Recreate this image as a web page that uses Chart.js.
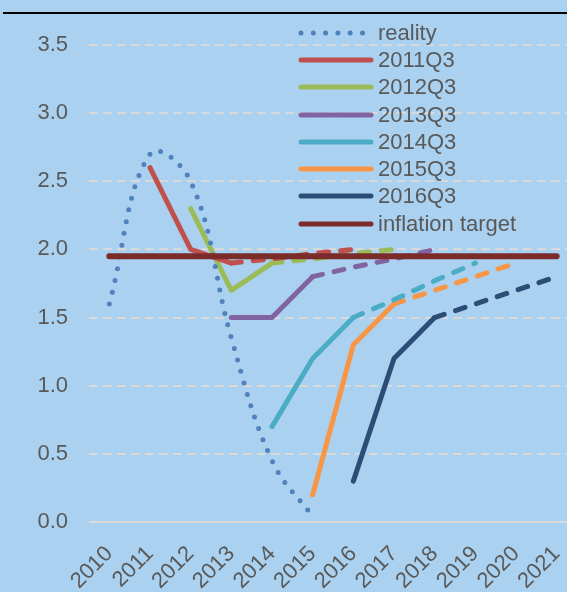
<!DOCTYPE html>
<html>
<head>
<meta charset="utf-8">
<script src="https://cdn.jsdelivr.net/npm/chart.js@4/dist/chart.umd.min.js"></script>
<style>
    html, body {
        margin: 0;
        padding: 0;
        width: 567px;
        height: 592px;
        overflow: hidden;
        background: #aad2f0;
        font-family: 'Liberation Sans', Arial, sans-serif;
    }
    .frame {
        position: relative;
        width: 567px;
        height: 592px;
        overflow: hidden;
    }
    .frame canvas {
        position: absolute;
        left: 0;
        top: 0;
    }
    .top-rule {
        position: absolute;
        left: 3px;
        right: 0;
        top: 12px;
        height: 2px;
        background: #000;
    }
    .legend {
        position: absolute;
        left: 297px;
        top: 19px;
        margin: 0;
        padding: 0;
        list-style: none;
        color: #595959;
        font-size: 22px;
    }
    .legend li {
        display: flex;
        align-items: center;
        height: 27.3px;
        white-space: nowrap;
    }
    .legend svg {
        flex: none;
        margin-right: 3px;
    }
</style>
</head>
<body>
<div class="frame">
    <canvas id="forecastChart" width="577" height="592"></canvas>
    <div class="top-rule"></div>
    <ul class="legend" id="legend"></ul>
</div>
<script>
    const years = ['2010', '2011', '2012', '2013', '2014', '2015', '2016', '2017', '2018', '2019', '2020', '2021'];

    const reality  = [1.6, 2.7, 2.5, 1.35, 0.45, 0.04, null, null, null, null, null, null];
    const proj2011 = [null, 2.6, 2.0, 1.9, 1.93, 1.97, 2.0, null, null, null, null, null];
    const proj2012 = [null, null, 2.3, 1.7, 1.9, 1.93, 1.97, 2.0, null, null, null, null];
    const proj2013 = [null, null, null, 1.5, 1.5, 1.8, 1.87, 1.93, 2.0, null, null, null];
    const proj2014 = [null, null, null, null, 0.7, 1.2, 1.5, 1.63, 1.77, 1.9, null, null];
    const proj2015 = [null, null, null, null, null, 0.2, 1.3, 1.6, 1.7, 1.8, 1.9, null];
    const proj2016 = [null, null, null, null, null, null, 0.3, 1.2, 1.5, 1.6, 1.7, 1.8];
    const target   = [1.95, 1.95, 1.95, 1.95, 1.95, 1.95, 1.95, 1.95, 1.95, 1.95, 1.95, 1.95];

    // last year of each official projection, dashed after that
    const projectionLabels = ['2011Q3', '2012Q3', '2013Q3', '2014Q3', '2015Q3', '2016Q3'];
    const projectionEnds = ['2013', '2014', '2015', '2016', '2017', '2018'];
    const projections = [proj2011, proj2012, proj2013, proj2014, proj2015, proj2016];
    const projectionColors = ['#c0504d', '#9bbb59', '#8064a2', '#4bacc6', '#f79646', '#2c4d75'];

    const yTicks = [0, 0.5, 1, 1.5, 2, 2.5, 3, 3.5];

    const textColor = '#595959';
    const gridColor = '#d9d9d9';
    const fontFamily = "'Liberation Sans', Arial, sans-serif";

    function projectionDataset(i) {
        const endIndex = years.indexOf(projectionEnds[i]);
        return {
            label: projectionLabels[i],
            data: projections[i],
            borderColor: projectionColors[i],
            backgroundColor: projectionColors[i],
            borderWidth: 5,
            borderCapStyle: 'round',
            borderJoinStyle: 'round',
            pointRadius: 0,
            order: 2 + i,
            segment: {
                borderDash: (ctx) => (ctx.p0DataIndex >= endIndex ? [10, 12] : undefined),
            },
        };
    }

    const datasets = [
        {
            label: 'reality',
            data: reality,
            borderColor: '#4f81bd',
            backgroundColor: '#4f81bd',
            borderWidth: 5,
            borderDash: [0, 12],
            borderCapStyle: 'round',
            tension: 0.4,
            pointRadius: 0,
            order: 1,
        },
        ...projections.map((_, i) => projectionDataset(i)),
        {
            label: 'inflation target',
            data: target,
            borderColor: '#7a2b2a',
            backgroundColor: '#7a2b2a',
            borderWidth: 6,
            borderCapStyle: 'round',
            pointRadius: 0,
            order: 0,
        },
    ];

    // zero line is solid, the other grid lines dashed
    const zeroLine = {
        id: 'zeroLine',
        beforeDatasetsDraw(c) {
            const { ctx, chartArea } = c;
            const y = c.scales.y.getPixelForValue(0);
            ctx.save();
            ctx.strokeStyle = gridColor;
            ctx.lineWidth = 2;
            ctx.setLineDash([]);
            ctx.beginPath();
            ctx.moveTo(chartArea.left, y);
            ctx.lineTo(chartArea.right, y);
            ctx.stroke();
            ctx.restore();
        },
    };

    const chart = new Chart(document.getElementById('forecastChart'), {
        type: 'line',
        data: {
            labels: years,
            datasets,
        },
        options: {
            responsive: false,
            animation: false,
            layout: {
                padding: { top: 45, right: 0, bottom: 0, left: 0 },
            },
            plugins: {
                legend: { display: false },
                tooltip: { enabled: false },
            },
            scales: {
                x: {
                    offset: true,
                    border: { display: false },
                    grid: { display: false, drawTicks: false },
                    ticks: {
                        color: textColor,
                        font: { family: fontFamily, size: 22 },
                        minRotation: 45,
                        maxRotation: 45,
                        autoSkip: false,
                        padding: 19,
                    },
                    afterFit(scale) {
                        scale.height = 70;
                        scale.paddingLeft = 0;
                        scale.paddingRight = 0;
                    },
                },
                y: {
                    min: 0,
                    max: 3.5,
                    border: { display: false, dash: [9, 5] },
                    grid: {
                        color: gridColor,
                        lineWidth: 2,
                        drawTicks: false,
                    },
                    afterBuildTicks(scale) {
                        scale.ticks = yTicks.map((value) => ({ value }));
                    },
                    ticks: {
                        color: textColor,
                        font: { family: fontFamily, size: 22 },
                        padding: 21,
                        callback: (value) => Number(value).toFixed(1),
                    },
                    afterFit(scale) {
                        scale.width = 89;
                    },
                },
            },
        },
        plugins: [zeroLine],
    });

    function buildLegend() {
        const list = document.getElementById('legend');
        chart.data.datasets.forEach((ds) => {
            const li = document.createElement('li');
            const dotted = Array.isArray(ds.borderDash) && ds.borderDash[0] === 0;
            const dash = dotted ? ' stroke-dasharray="0 12.3"' : '';
            li.innerHTML =
                '<svg width="78" height="10"><line x1="4" y1="5" x2="' + (dotted ? 70 : 74) + '" y2="5" stroke="' +
                ds.borderColor + '" stroke-width="5" stroke-linecap="round"' + dash + '/></svg>' +
                '<span>' + ds.label + '</span>';
            list.appendChild(li);
        });
    }

    buildLegend();
</script>
</body>
</html>
